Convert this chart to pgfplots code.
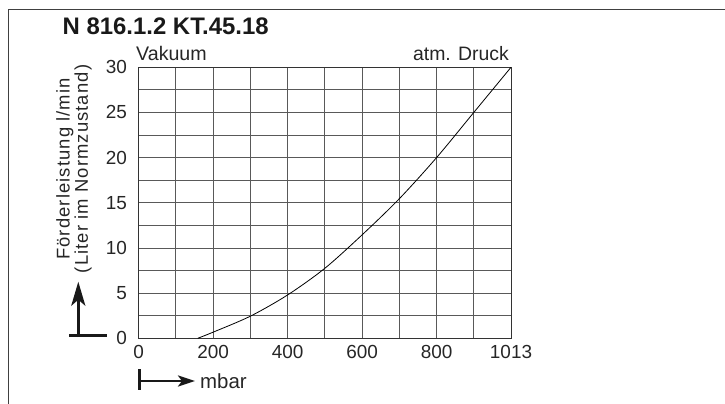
\documentclass[border=0pt]{standalone}
\usepackage{fontspec}
\setmainfont{Liberation Sans}
\usepackage{pgfplots}
\pgfplotsset{compat=1.18}
\usetikzlibrary{arrows.meta}
\newfontfamily\lblfont[LetterSpace=6]{Liberation Sans}
\begin{document}
\begin{tikzpicture}
\path[use as bounding box] (0bp,0bp) rectangle (725bp,404bp);
% frame
\draw[black!75, line width=1.2bp] (8.7bp,-2bp) -- (8.7bp,394.5bp) -- (727bp,394.5bp);
% title
\node[anchor=base west, inner sep=0pt, font=\fontsize{24}{26}\selectfont\bfseries, text=black!90] at (62.5bp,369bp) {N 816.1.2 KT.45.18};
\node[anchor=base west, inner sep=0pt, font=\fontsize{19.7}{22}\selectfont, text=black!85] at (136bp,343.3bp) {Vakuum};
\node[anchor=base east, inner sep=0pt, font=\fontsize{19.5}{22}\selectfont, text=black!85] at (509bp,343.3bp) {atm. Druck};
% y label
\node[rotate=90, align=center, inner sep=0pt, font=\lblfont\fontsize{18.5}{16.5}\selectfont, text=black!85] at (74bp,235bp) {Förderleistung l/min\\(Liter im Normzustand)};
% arrows
\draw[line width=3bp, black!90] (69bp,68.3bp) -- (106.7bp,68.3bp);
\draw[line width=3bp, black!90, -{Stealth[length=24bp,width=14bp,inset=6bp]}] (78.3bp,66.8bp) -- (78.3bp,122.3bp);
\draw[line width=2.5bp, black!90] (139.3bp,14bp) -- (139.3bp,35bp);
\draw[line width=2.4bp, black!90, -{Stealth[length=17bp,width=11bp,inset=4bp]}] (139.3bp,23bp) -- (195bp,23bp);
\node[anchor=base west, inner sep=0pt, font=\fontsize{20.5}{22}\selectfont, text=black!85] at (200bp,16bp) {mbar};
\begin{axis}[
  at={(138.7bp,65.7bp)}, anchor=south west,
  scale only axis, width=372.3bp, height=271bp,
  xmin=0, xmax=1013, ymin=0, ymax=30,
  xtick={0,202.6,405.2,607.8,810.4,1013},
  xticklabels={0,200,400,600,800,1013},
  minor xtick={101.3,303.9,506.5,709.1,911.7},
  ytick={0,5,10,15,20,25,30},
  minor ytick={2.5,7.5,12.5,17.5,22.5,27.5},
  grid=both,
  major grid style={black!65, line width=0.9bp},
  minor grid style={black!65, line width=0.9bp},
  axis line style={black!80, line width=1bp},
  major tick length=0pt, minor tick length=0pt,
  /pgf/number format/assume math mode=true,
  tick label style={font=\fontsize{19}{21}\selectfont, text=black!85},
  xticklabel style={inner sep=0pt, anchor=north, yshift=-7bp},
  yticklabel style={inner sep=0pt, anchor=east, xshift=-11.5bp},
]
\addplot[black, line width=0.8bp, smooth] coordinates {
(160.6,0) (202.6,0.68) (303.9,2.45) (405.2,4.8) (506.5,7.75) (607.8,11.45) (709.1,15.45) (810.4,20.0) (911.7,25.0) (1013,30)
};
\end{axis}
\end{tikzpicture}
\end{document}
